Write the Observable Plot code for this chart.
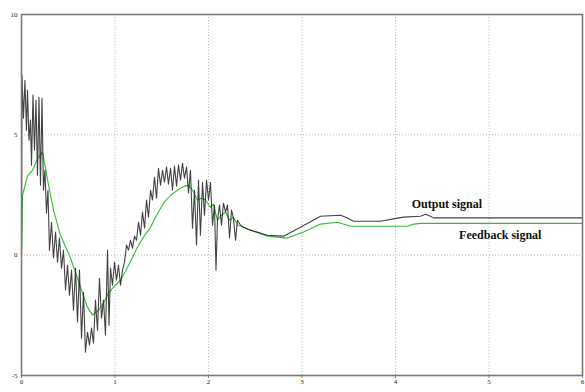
<!DOCTYPE html>
<html>
<head>
<meta charset="utf-8">
<script src="https://cdn.jsdelivr.net/npm/d3@7"></script>
<script src="https://cdn.jsdelivr.net/npm/@observablehq/plot@0.6"></script>
<style>
  html, body { margin: 0; padding: 0; background: #fff; }
  #chart { width: 585px; height: 392px; }
</style>
</head>
<body>
<div id="chart"></div>
<script>
// Output signal (time in s, amplitude)
const outT = [0, 0.005, 0.021, 0.037, 0.053, 0.064, 0.080, 0.096, 0.107, 0.123, 0.139, 0.155, 0.171, 0.187, 0.203, 0.219, 0.235, 0.251, 0.267, 0.283, 0.299, 0.321, 0.342, 0.364, 0.385, 0.406, 0.428, 0.449, 0.471, 0.492, 0.513, 0.535, 0.556, 0.578, 0.599, 0.620, 0.642, 0.663, 0.684, 0.706, 0.727, 0.749, 0.770, 0.791, 0.813, 0.834, 0.856, 0.877, 0.898, 0.920, 0.936, 0.952, 0.973, 0.995, 1.016, 1.037, 1.059, 1.080, 1.102, 1.123, 1.144, 1.166, 1.187, 1.209, 1.230, 1.251, 1.273, 1.294, 1.316, 1.337, 1.358, 1.380, 1.401, 1.422, 1.444, 1.465, 1.487, 1.508, 1.529, 1.551, 1.572, 1.594, 1.615, 1.636, 1.658, 1.679, 1.701, 1.722, 1.743, 1.765, 1.786, 1.807, 1.829, 1.850, 1.872, 1.893, 1.914, 1.936, 1.957, 1.979, 2.000, 2.021, 2.043, 2.064, 2.080, 2.096, 2.118, 2.139, 2.160, 2.182, 2.203, 2.225, 2.246, 2.267, 2.289, 2.310, 2.342, 2.374, 2.449, 2.631, 2.802, 2.984, 3.198, 3.412, 3.487, 3.551, 3.840, 4.021, 4.086, 4.267, 4.321, 4.374, 4.406, 6];
const outV = [0, 7.48, 5.69, 7.27, 5.19, 6.86, 4.78, 5.61, 3.74, 6.65, 4.36, 6.44, 3.32, 6.56, 2.91, 6.52, 2.70, 3.53, 1.74, 2.70, 0.21, 1.37, -0.12, 0.96, -0.29, 0.71, -0.54, 0.21, -1.45, -0.42, -1.66, -0.62, -2.29, -0.54, -2.78, -0.62, -3.45, -1.54, -4.03, -3.20, -3.74, -3.03, -3.66, -1.87, -3.12, -0.96, -2.62, -1.87, -3.32, 0.21, -2.91, -0.54, -1.25, -0.29, -1.04, -0.42, -1.25, -0.62, -0.29, 0.42, 0.21, 0.62, 0.29, 0.79, 0.62, 1.37, 0.83, 1.79, 1.12, 2.29, 1.58, 2.70, 2.29, 3.24, 2.37, 3.61, 2.91, 3.53, 3.03, 3.66, 2.95, 3.61, 2.70, 3.70, 2.87, 3.74, 3.12, 3.82, 3.20, 3.66, 2.58, 3.53, 1.12, 2.70, 0.42, 3.12, 0.83, 3.03, 1.66, 3.12, 2.29, 3.03, 1.25, 2.08, -0.62, 1.45, 2.08, 1.25, 2.16, 1.79, 2.08, 0.71, 1.87, 1.54, 0.62, 1.45, 1.25, 1.16, 1.04, 0.83, 0.79, 1.16, 1.62, 1.66, 1.54, 1.41, 1.41, 1.54, 1.58, 1.62, 1.70, 1.62, 1.55, 1.55];

// Feedback signal (time in s, amplitude)
const fbT = [0, 0.005, 0.011, 0.064, 0.118, 0.150, 0.182, 0.225, 0.257, 0.289, 0.342, 0.417, 0.524, 0.599, 0.652, 0.706, 0.759, 0.824, 0.877, 0.930, 0.984, 1.059, 1.134, 1.241, 1.305, 1.380, 1.444, 1.519, 1.594, 1.668, 1.743, 1.786, 1.829, 1.882, 1.925, 1.968, 2.021, 2.053, 2.096, 2.139, 2.182, 2.225, 2.267, 2.310, 2.374, 2.449, 2.631, 2.845, 3.016, 3.198, 3.380, 3.519, 4.128, 4.193, 4.267, 6];
const fbV = [0, 0.75, 2.49, 3.28, 3.53, 3.82, 4.07, 4.28, 3.61, 2.91, 1.87, 0.83, -0.12, -0.96, -1.58, -2.16, -2.49, -2.29, -1.99, -1.58, -1.33, -1.04, -0.50, 0.33, 0.75, 1.16, 1.66, 2.16, 2.49, 2.70, 2.87, 2.91, 2.70, 2.29, 2.37, 2.29, 1.99, 2.12, 1.45, 1.66, 1.79, 1.45, 1.58, 1.25, 1.16, 1.04, 0.79, 0.71, 0.96, 1.29, 1.37, 1.20, 1.20, 1.29, 1.32, 1.32];

// Axis ticks
const xTicks = [0, 1, 2, 3, 4, 5, 6];
const yTicks = [-5, 0, 5, 10];
const xGrid = [1, 2, 3, 4, 5];
const yGrid = [0, 5];

// In-plot series labels
const labelNames = ["Output signal", "Feedback signal"];
const labelT = [4.55, 5.12];
const labelV = [2.12, 0.83];

const output = outT.map((t, i) => ({t, v: outV[i]}));
const feedback = fbT.map((t, i) => ({t, v: fbV[i]}));
const labels = labelNames.map((name, i) => ({name, t: labelT[i], v: labelV[i]}));

const chart = Plot.plot({
  width: 585,
  height: 392,
  marginLeft: 21,
  marginRight: 3,
  marginTop: 14,
  marginBottom: 17,
  style: {background: "#fff", fontFamily: "Liberation Serif, serif"},
  x: {domain: [0, 6], label: null},
  y: {domain: [-5, 10], label: null},
  marks: [
    Plot.ruleX(xGrid, {stroke: "#bbb", strokeWidth: 1, strokeDasharray: "1,2"}),
    Plot.ruleY(yGrid, {stroke: "#bbb", strokeWidth: 1, strokeDasharray: "1,2"}),
    Plot.axisX({ticks: xTicks, tickFormat: d => d, label: null, tickSize: 3, tickPadding: 1, fontSize: 7, stroke: "#888", fill: "#222"}),
    Plot.axisY({ticks: yTicks, tickFormat: d => d, label: null, tickSize: 0, tickPadding: 4, fontSize: 7, fill: "#222"}),
    Plot.line(feedback, {x: "t", y: "v", stroke: "#2fbf2f", strokeWidth: 1.1}),
    Plot.line(output, {x: "t", y: "v", stroke: "#222", strokeWidth: 1.1, strokeOpacity: 0.85}),
    Plot.text(labels, {x: "t", y: "v", text: "name", fontSize: 12, fontWeight: "bold", fill: "#111", fontFamily: "Liberation Serif, serif"}),
    Plot.frame({stroke: "#7a7a7a", strokeWidth: 1.6})
  ]
});
document.getElementById("chart").appendChild(chart);
</script>
</body>
</html>
